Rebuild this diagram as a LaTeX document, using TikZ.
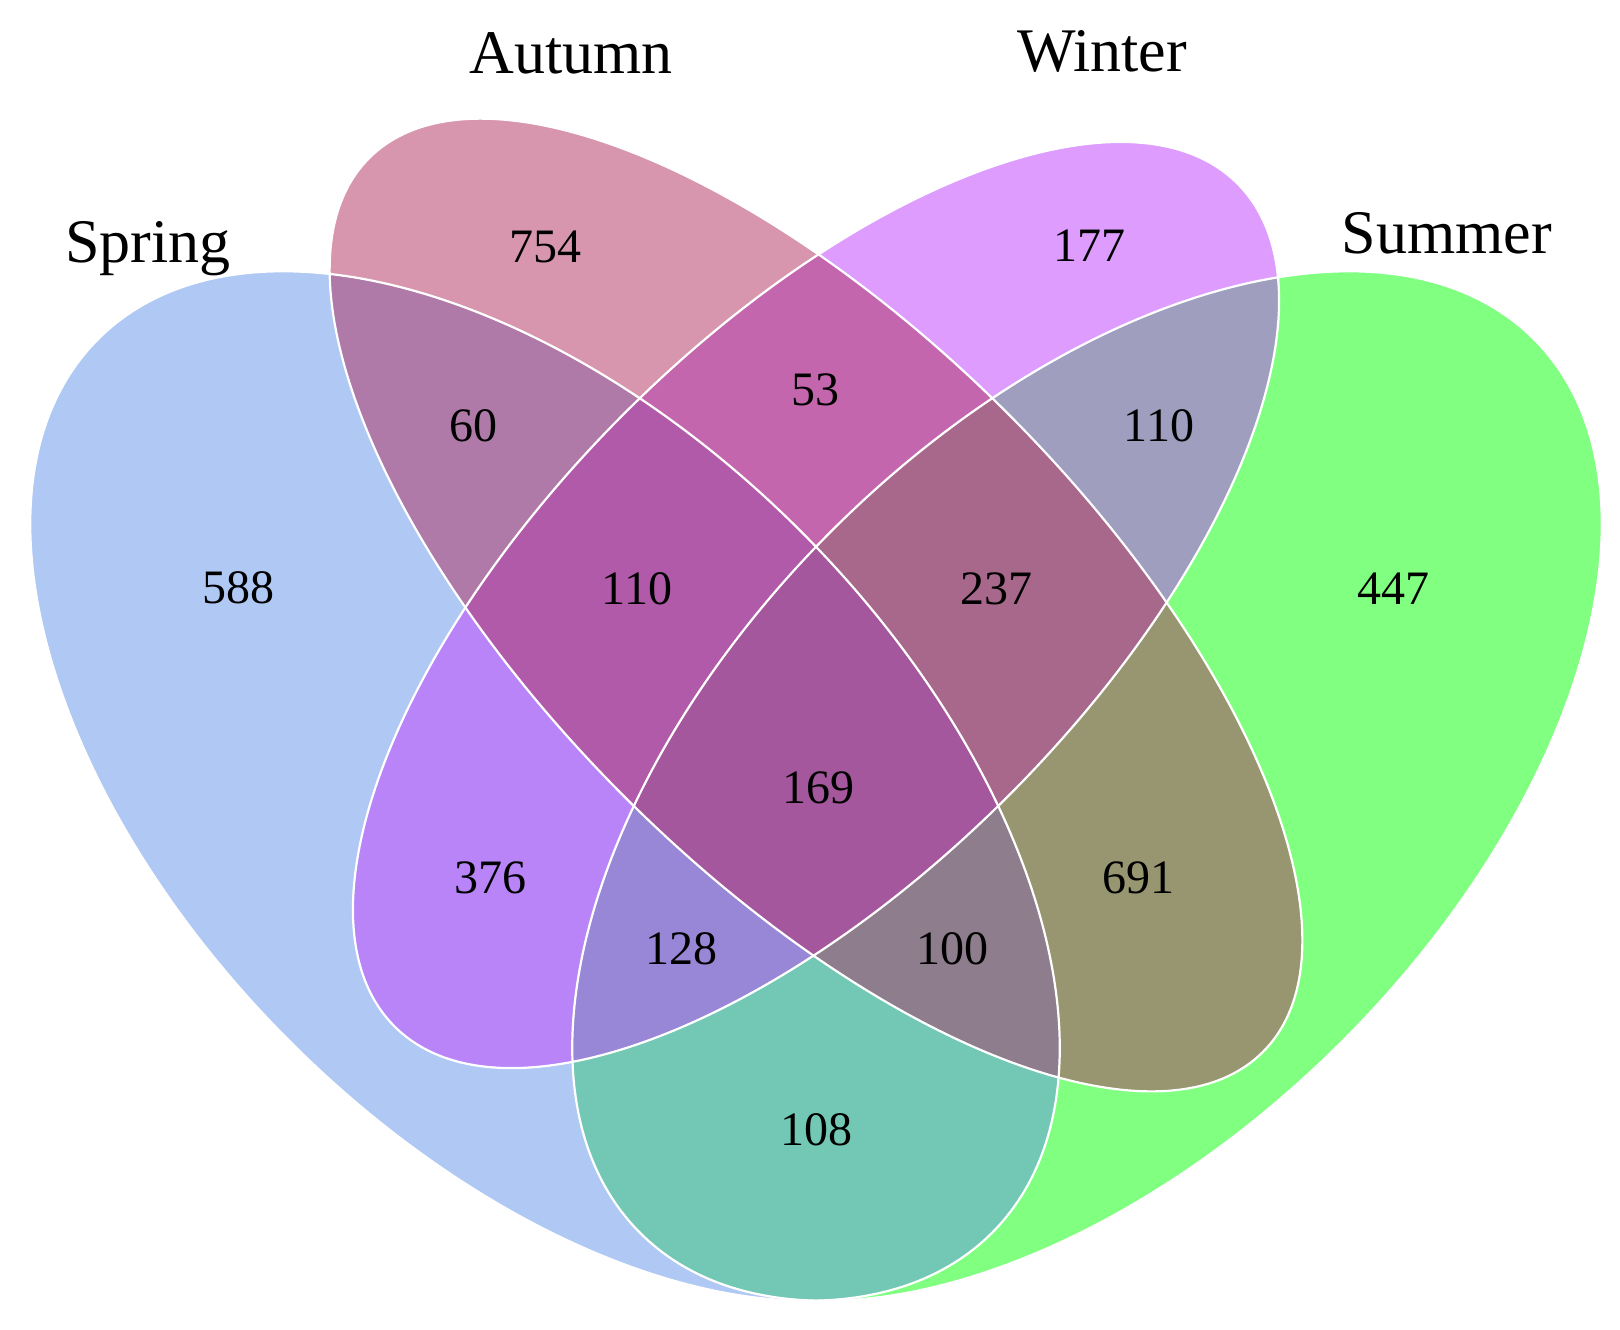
\documentclass[tikz,border=0pt]{standalone}
\usepackage{fontspec}
\setmainfont{Liberation Serif}
\definecolor{cA}{HTML}{B0C8F4}
\definecolor{cB}{HTML}{D796AE}
\definecolor{cC}{HTML}{DD9CFE}
\definecolor{cD}{HTML}{80FF80}
\definecolor{cAB}{HTML}{B07AA8}
\definecolor{cAC}{HTML}{B884F8}
\definecolor{cAD}{HTML}{72C8B4}
\definecolor{cBC}{HTML}{C466AE}
\definecolor{cBD}{HTML}{989670}
\definecolor{cCD}{HTML}{A09EBE}
\definecolor{cABC}{HTML}{B25AAA}
\definecolor{cABD}{HTML}{8E7D8C}
\definecolor{cACD}{HTML}{9886D6}
\definecolor{cBCD}{HTML}{A8688C}
\definecolor{cABCD}{HTML}{A4579C}
\begin{document}
\begin{tikzpicture}[x=0.5pt,y=-0.5pt,
  rA/.style={rotate around={-45:(545,786)}},
  rB/.style={rotate around={-45:(816,605)}},
  rC/.style={rotate around={45:(816,605)}},
  rD/.style={rotate around={45:(1087,786)}},
  num/.style={anchor=base,inner sep=0pt,font=\fontsize{24}{28}\selectfont},
  setlabel/.style={anchor=base,inner sep=0pt,font=\fontsize{31}{36}\selectfont},
  border/.style={draw=white,line width=1.1pt}]
\useasboundingbox (0,0) rectangle (1620,1329);
% single sets
\fill[cA,rA] (545,786) ellipse [x radius=632, y radius=361];
\fill[cB,rB] (816,605) ellipse [x radius=632, y radius=271];
\fill[cC,rC] (816,605) ellipse [x radius=596, y radius=271];
\fill[cD,rD] (1087,786) ellipse [x radius=632, y radius=361];
% pairs
\begin{scope}
  \clip[rA] (545,786) ellipse [x radius=632, y radius=361];
  \fill[cAB,rB] (816,605) ellipse [x radius=632, y radius=271];
\end{scope}
\begin{scope}
  \clip[rA] (545,786) ellipse [x radius=632, y radius=361];
  \fill[cAC,rC] (816,605) ellipse [x radius=596, y radius=271];
\end{scope}
\begin{scope}
  \clip[rA] (545,786) ellipse [x radius=632, y radius=361];
  \fill[cAD,rD] (1087,786) ellipse [x radius=632, y radius=361];
\end{scope}
\begin{scope}
  \clip[rB] (816,605) ellipse [x radius=632, y radius=271];
  \fill[cBC,rC] (816,605) ellipse [x radius=596, y radius=271];
\end{scope}
\begin{scope}
  \clip[rB] (816,605) ellipse [x radius=632, y radius=271];
  \fill[cBD,rD] (1087,786) ellipse [x radius=632, y radius=361];
\end{scope}
\begin{scope}
  \clip[rC] (816,605) ellipse [x radius=596, y radius=271];
  \fill[cCD,rD] (1087,786) ellipse [x radius=632, y radius=361];
\end{scope}
% triples
\begin{scope}
  \clip[rA] (545,786) ellipse [x radius=632, y radius=361];
  \clip[rB] (816,605) ellipse [x radius=632, y radius=271];
  \fill[cABC,rC] (816,605) ellipse [x radius=596, y radius=271];
\end{scope}
\begin{scope}
  \clip[rA] (545,786) ellipse [x radius=632, y radius=361];
  \clip[rB] (816,605) ellipse [x radius=632, y radius=271];
  \fill[cABD,rD] (1087,786) ellipse [x radius=632, y radius=361];
\end{scope}
\begin{scope}
  \clip[rA] (545,786) ellipse [x radius=632, y radius=361];
  \clip[rC] (816,605) ellipse [x radius=596, y radius=271];
  \fill[cACD,rD] (1087,786) ellipse [x radius=632, y radius=361];
\end{scope}
\begin{scope}
  \clip[rB] (816,605) ellipse [x radius=632, y radius=271];
  \clip[rC] (816,605) ellipse [x radius=596, y radius=271];
  \fill[cBCD,rD] (1087,786) ellipse [x radius=632, y radius=361];
\end{scope}
% all four
\begin{scope}
  \clip[rA] (545,786) ellipse [x radius=632, y radius=361];
  \clip[rB] (816,605) ellipse [x radius=632, y radius=271];
  \clip[rC] (816,605) ellipse [x radius=596, y radius=271];
  \fill[cABCD,rD] (1087,786) ellipse [x radius=632, y radius=361];
\end{scope}
% borders
\path[border,rA] (545,786) ellipse [x radius=632, y radius=361];
\path[border,rB] (816,605) ellipse [x radius=632, y radius=271];
\path[border,rC] (816,605) ellipse [x radius=596, y radius=271];
\path[border,rD] (1087,786) ellipse [x radius=632, y radius=361];
% set labels
\node[setlabel] (lSpring) at (148,262) {Spring};
\node[setlabel] (lAutumn) at (571,73) {Autumn};
\node[setlabel] (lWinter) at (1102,71) {Winter};
\node[setlabel] (lSummer) at (1447,253) {Summer};
% counts
\node[num] (n754) at (545,262) {754};
\node[num] (n177) at (1089,261) {177};
\node[num] (n60) at (473,441) {60};
\node[num] (n53) at (815,405) {53};
\node[num] (n110r) at (1159,441) {110};
\node[num] (n588) at (238,603) {588};
\node[num] (n110l) at (637,604) {110};
\node[num] (n237) at (996,604) {237};
\node[num] (n447) at (1393,604) {447};
\node[num] (n169) at (818,803) {169};
\node[num] (n376) at (490,893) {376};
\node[num] (n691) at (1138,893) {691};
\node[num] (n128) at (681,964) {128};
\node[num] (n100) at (952,964) {100};
\node[num] (n108) at (816,1145) {108};
\end{tikzpicture}
\end{document}
